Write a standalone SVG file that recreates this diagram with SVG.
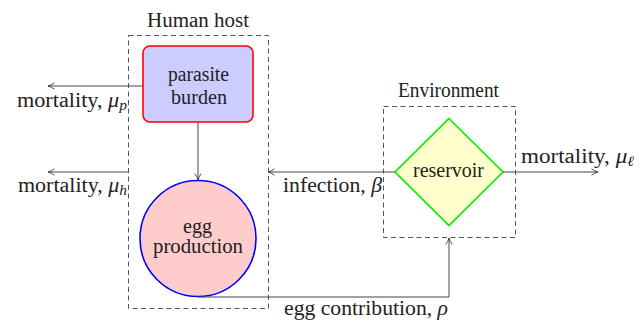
<svg xmlns="http://www.w3.org/2000/svg" width="643" height="323" viewBox="0 0 643 323" font-family="'Liberation Serif', 'DejaVu Serif', serif">
<defs>
<marker id="arr" viewBox="0 0 10 10" refX="9" refY="5" markerWidth="8" markerHeight="8" markerUnits="userSpaceOnUse" orient="auto">
<path d="M1,1 Q5,4 9,5 Q5,6 1,9" fill="none" stroke="#444" stroke-width="1.2"/>
</marker>
<style>
text{font-family:'Liberation Serif', 'DejaVu Serif', serif;font-size:20px;fill:#222}
.box{fill:none;stroke:#555;stroke-width:1;stroke-dasharray:5 3.5}
.con{fill:none;stroke:#444;stroke-width:1;marker-end:url(#arr)}
.m{text-anchor:middle}
.e{text-anchor:end}
tspan.i{font-style:italic}
</style>
</defs>
<rect width="643" height="323" fill="#fff"/>
<g id="human-host">
<rect class="box" x="128.5" y="35.5" width="140" height="273"/>
<text class="m" x="198" y="27" textLength="102" lengthAdjust="spacingAndGlyphs">Human host</text>
</g>
<g id="environment">
<rect class="box" x="383.5" y="106.5" width="132" height="131"/>
<text class="m" x="448.5" y="97" textLength="101" lengthAdjust="spacingAndGlyphs">Environment</text>
</g>
<g id="parasite-burden">
<rect x="143" y="46" width="110" height="76" rx="7" fill="#ccccff" stroke="#ff0000" stroke-width="1.6"/>
<text class="m" x="198.5" y="81" textLength="61" lengthAdjust="spacingAndGlyphs">parasite</text>
<text class="m" x="199" y="104" textLength="56" lengthAdjust="spacingAndGlyphs">burden</text>
</g>
<g id="egg-production">
<circle cx="198" cy="238.5" r="58" fill="#ffcccc" stroke="#0000ff" stroke-width="1.6"/>
<text class="m" x="197.5" y="233" textLength="29" lengthAdjust="spacingAndGlyphs">egg</text>
<text class="m" x="198" y="253" textLength="90" lengthAdjust="spacingAndGlyphs">production</text>
</g>
<g id="reservoir">
<polygon points="449,118.5 503,172 449,225.5 395,172" fill="#ffffcc" stroke="#00ee00" stroke-width="1.6"/>
<text class="m" x="448.5" y="177" textLength="71" lengthAdjust="spacingAndGlyphs">reservoir</text>
</g>
<g id="connectors">
<line class="con" x1="143" y1="86" x2="48" y2="86"/>
<line class="con" x1="128" y1="172" x2="48" y2="172"/>
<line class="con" x1="198" y1="122" x2="198" y2="180"/>
<line class="con" x1="395" y1="172" x2="268" y2="172"/>
<line class="con" x1="503" y1="172" x2="598" y2="172"/>
<path class="con" d="M198,297 H449 V238"/>
<text x="17" y="107" textLength="110" lengthAdjust="spacingAndGlyphs">mortality, <tspan class="i">μ</tspan><tspan class="i" font-size="14" dy="3">p</tspan></text>
<text x="18" y="192" textLength="109" lengthAdjust="spacingAndGlyphs">mortality, <tspan class="i">μ</tspan><tspan class="i" font-size="14" dy="3">h</tspan></text>
<text x="283" y="192" textLength="99" lengthAdjust="spacingAndGlyphs">infection, <tspan class="i">β</tspan></text>
<text x="521" y="163" textLength="113" lengthAdjust="spacingAndGlyphs">mortality, <tspan class="i">μ</tspan><tspan class="i" font-size="14" dy="3">ℓ</tspan></text>
<text x="284" y="315" textLength="164" lengthAdjust="spacingAndGlyphs">egg contribution, <tspan class="i">ρ</tspan></text>
</g>
</svg>
